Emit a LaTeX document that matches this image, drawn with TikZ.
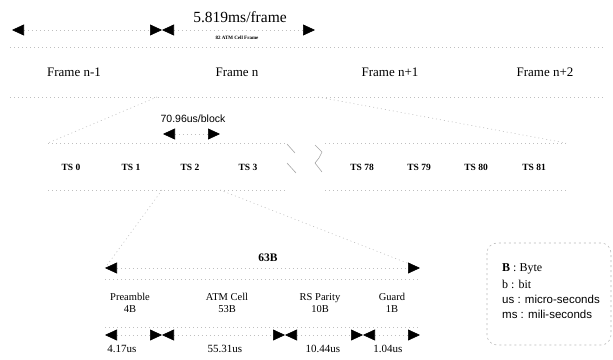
\documentclass[tikz,border=0pt]{standalone}
\usepackage{fontspec}
\setmainfont{Liberation Serif}
\setsansfont{Liberation Sans}
\usetikzlibrary{arrows.meta}
\begin{document}
\begin{tikzpicture}[x=1pt,y=-1pt,
  faint/.style={draw=gray!50, line width=0.6pt, dash pattern=on 1pt off 3pt},
  brk/.style={draw=gray!70, line width=0.6pt},
  tipa/.tip={Triangle[length=12pt,width=11pt,black]},
  dim/.style={draw=gray!50, line width=0.6pt, dash pattern=on 1pt off 3pt, tipa-tipa},
  frm/.style={font=\fontsize{13}{15}\selectfont},
  ts/.style={font=\bfseries\fontsize{9.5}{11}\selectfont},
  cell/.style={font=\fontsize{10.5}{12}\selectfont, align=center},
  tim/.style={font=\fontsize{11}{13}\selectfont},
  leg/.style={anchor=west, font=\fontsize{12}{14}\selectfont, inner sep=0pt}]
\useasboundingbox (0,0) rectangle (613,359);
% ---- top time scale
\coordinate (t0) at (12,30);
\coordinate (t1) at (162,30);
\coordinate (t2) at (315,30);
\draw[dim] (t0) -- (t1);
\draw[dim] (t1) -- (t2);
\node[font=\fontsize{15.5}{18}\selectfont] (ttl) at (240,17) {5.819ms/frame};
\node[font=\bfseries\fontsize{5}{6}\selectfont] (sub) at (237,38) {82 ATM Cell Frame};
% ---- frame row
\coordinate (fa) at (10,47);
\coordinate (fb) at (605,47);
\coordinate (fc) at (10,97);
\coordinate (fd) at (605,97);
\draw[faint] (fa) -- (fb);
\draw[faint] (fc) -- (fd);
\node[frm] (f1) at (74,72) {Frame n-1};
\node[frm] (f2) at (237,72) {Frame n};
\node[frm] (f3) at (390,72) {Frame n+1};
\node[frm] (f4) at (545,72) {Frame n+2};
\coordinate (fnl) at (157,97);
\coordinate (fnr) at (318,97);
% ---- TS row
\coordinate (sa) at (48,143);
\coordinate (sb) at (287,143);
\coordinate (sc) at (325,143);
\coordinate (sd) at (566,143);
\coordinate (se) at (48,190);
\coordinate (sf) at (287,190);
\coordinate (sg) at (325,190);
\coordinate (sh) at (566,190);
\draw[faint] (sa) -- (sb);
\draw[faint] (sc) -- (sd);
\draw[faint] (se) -- (sf);
\draw[faint] (sg) -- (sh);
\draw[faint] (fnl) -- (sa);
\draw[faint] (fnr) -- (sd);
\node[font=\sffamily\fontsize{10.5}{12}\selectfont] (blk) at (193,119) {70.96us/block};
\coordinate (b0) at (163,134);
\coordinate (b1) at (220,134);
\draw[dim] (b0) -- (b1);
\node[ts] (ts0) at (71,167) {TS 0};
\node[ts] (ts1) at (131,167) {TS 1};
\node[ts] (ts2) at (190,167) {TS 2};
\node[ts] (ts3) at (248,167) {TS 3};
\node[ts] (ts78) at (362,167) {TS 78};
\node[ts] (ts79) at (419,167) {TS 79};
\node[ts] (ts80) at (476,167) {TS 80};
\node[ts] (ts81) at (534,167) {TS 81};
% break marks
\draw[brk] (287,144) -- (295,153);
\draw[brk] (287,163) -- (296,173);
\draw[brk] (315,145) -- (322,152) -- (319,158) -- (315,163) -- (322,172);
% ---- cell
\coordinate (tl) at (162,190);
\coordinate (tr) at (220,190);
\coordinate (c0) at (105,268);
\coordinate (c1) at (420,268);
\draw[faint] (tl) -- (c0);
\draw[faint] (tr) -- (c1);
\draw[dim] (c0) -- (c1);
\node[font=\bfseries\fontsize{11.5}{13}\selectfont] (b63) at (268,258) {63B};
\coordinate (ca) at (105,279);
\coordinate (cb) at (420,279);
\coordinate (cc) at (105,327);
\coordinate (cd) at (420,327);
\draw[faint] (ca) -- (cb);
\draw[faint] (cc) -- (cd);
\node[cell] (pre) at (130,303) {Preamble\\4B};
\node[cell] (atm) at (227,303) {ATM Cell\\53B};
\node[cell] (rsp) at (320,303) {RS Parity\\10B};
\node[cell] (grd) at (392,303) {Guard\\1B};
% bottom timing
\coordinate (d0) at (105,335);
\coordinate (d1) at (162,335);
\coordinate (d2) at (285,335);
\coordinate (d3) at (363,335);
\coordinate (d4) at (420,335);
\draw[dim] (d0) -- (d1);
\draw[dim] (d1) -- (d2);
\draw[dim] (d2) -- (d3);
\draw[dim] (d3) -- (d4);
\node[tim] (u1) at (122,349) {4.17us};
\node[tim] (u2) at (225,349) {55.31us};
\node[tim] (u3) at (323,349) {10.44us};
\node[tim] (u4) at (388,349) {1.04us};
% ---- legend
\draw[draw=gray!55, line width=0.6pt, dash pattern=on 2pt off 3pt, rounded corners=10pt] (487,243) rectangle (611,345);
\node[leg] (l1) at (502,269) {\textbf{B} : Byte};
\node[leg] (l2) at (502,284) {b : bit};
\node[leg, font=\sffamily\fontsize{11.5}{14}\selectfont] (l3) at (502,299) {us : micro-seconds};
\node[leg, font=\sffamily\fontsize{11.5}{14}\selectfont] (l4) at (502,314) {ms : mili-seconds};
\end{tikzpicture}
\end{document}
